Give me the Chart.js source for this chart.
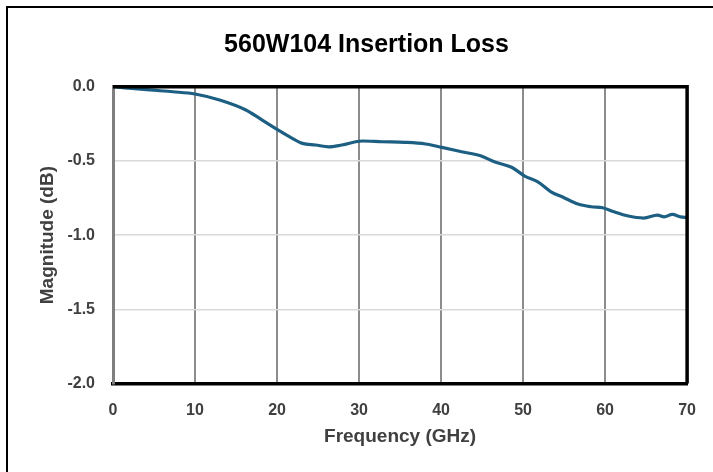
<!DOCTYPE html>
<html>
<head>
<meta charset="utf-8">
<script src="https://cdn.jsdelivr.net/npm/chart.js@4"></script>
<style>
  html, body { margin: 0; padding: 0; background: #fff; }
  #wrap { width: 713px; height: 472px; }
</style>
</head>
<body>
<div id="wrap"><canvas id="lossChart" width="713" height="472"></canvas></div>
<script>
// values
const freqGHz = [0, 4.5, 7.3, 10.0, 13.0, 16.2, 18.2, 20.0, 21.5, 23.1, 24.7, 26.3, 27.9,
    30.4, 32.8, 35.6, 38.1, 40.1, 42.5, 44.9, 46.5, 48.6, 50.2, 51.8, 53.4, 55.0,
    56.7, 58.3, 59.7, 61.1, 62.7, 64.7, 66.4, 67.2, 68.2, 69.2, 70];
const lossDB = [0, -0.022, -0.034, -0.049, -0.09, -0.157, -0.225, -0.287, -0.337, -0.382,
    -0.393, -0.405, -0.393, -0.366, -0.371, -0.375, -0.386, -0.409, -0.438, -0.467,
    -0.506, -0.543, -0.602, -0.641, -0.708, -0.748, -0.791, -0.809, -0.816, -0.843,
    -0.87, -0.885, -0.865, -0.877, -0.86, -0.877, -0.881];
const xTicks = [0, 10, 20, 30, 40, 50, 60, 70];
const yTicks = [0, -0.5, -1.0, -1.5, -2.0];

const FONT = "'Liberation Sans', Arial, sans-serif";
const TEXT = "#404040";

// white background, outer frame and the black top/right plot edges
const framePlugin = {
    id: "frame",
    afterLayout(chart) {
        // the title is centred on the outer frame, not on the canvas
        if (chart.titleBlock) {
            chart.titleBlock.left = 20;
            chart.titleBlock.right = 713;
        }
    },
    beforeDraw(chart) {
        const ctx = chart.ctx;
        ctx.save();
        ctx.fillStyle = "#fff";
        ctx.fillRect(0, 0, chart.width, chart.height);
        ctx.strokeStyle = "#000";
        ctx.lineWidth = 2;
        ctx.strokeRect(7, 7, chart.width + 20, chart.height + 20);
        ctx.restore();
    },
    afterDatasetsDraw(chart) {
        const { ctx, chartArea: a } = chart;
        ctx.save();
        ctx.strokeStyle = "#000";
        ctx.lineWidth = 3.5;
        ctx.beginPath();
        ctx.moveTo(a.left, a.top);
        ctx.lineTo(a.right, a.top);
        ctx.lineTo(a.right, a.bottom);
        ctx.stroke();
        ctx.restore();
    }
};

const ctx = document.getElementById("lossChart").getContext("2d");

new Chart(ctx, {
    type: "line",
    data: {
        datasets: [{
            label: "Insertion Loss",
            data: freqGHz.map((f, i) => ({ x: f, y: lossDB[i] })),
            borderColor: "#1d5f82",
            borderWidth: 3.2,
            pointRadius: 0,
            fill: false,
            tension: 0.4,
            cubicInterpolationMode: "monotone"
        }]
    },
    options: {
        responsive: false,
        animation: false,
        layout: { padding: { left: 0, right: 23, top: 0, bottom: 0 } },
        plugins: {
            legend: { display: false },
            tooltip: { enabled: false },
            title: {
                display: true,
                text: "560W104 Insertion Loss",
                color: "#000",
                font: { family: FONT, size: 25, weight: "bold", lineHeight: 1.2 },
                padding: { top: 30, bottom: 26.7 }
            }
        },
        scales: {
            x: {
                type: "linear",
                min: 0,
                max: 70,
                afterBuildTicks: (s) => { s.ticks = xTicks.map(v => ({ value: v })); },
                afterFit: (s) => { s.height = 472 - 383.5; },
                ticks: {
                    color: TEXT,
                    padding: 17,
                    font: { family: FONT, size: 16, weight: "bold" }
                },
                grid: { color: "#8c8c8c", lineWidth: 2, drawTicks: false },
                border: { color: "#000", width: 3.5 },
                title: {
                    display: true,
                    text: "Frequency (GHz)",
                    color: TEXT,
                    font: { family: FONT, size: 19, weight: "bold", lineHeight: 1.2 },
                    padding: { top: 0, bottom: 24 }
                }
            },
            y: {
                min: -2,
                max: 0,
                afterBuildTicks: (s) => { s.ticks = yTicks.map(v => ({ value: v })); },
                afterFit: (s) => { s.width = 113; },
                ticks: {
                    color: TEXT,
                    padding: 18,
                    font: { family: FONT, size: 16, weight: "bold" },
                    callback: (v) => Number(v).toFixed(1)
                },
                grid: { color: "#d9d9d9", lineWidth: 1.5, drawTicks: false },
                border: { color: "#7f7f7f", width: 3 },
                title: {
                    display: true,
                    text: "Magnitude (dB)",
                    color: TEXT,
                    font: { family: FONT, size: 19, weight: "bold", lineHeight: 1.2 },
                    padding: { top: 36, bottom: 0 }
                }
            }
        }
    },
    plugins: [framePlugin]
});
</script>
</body>
</html>
